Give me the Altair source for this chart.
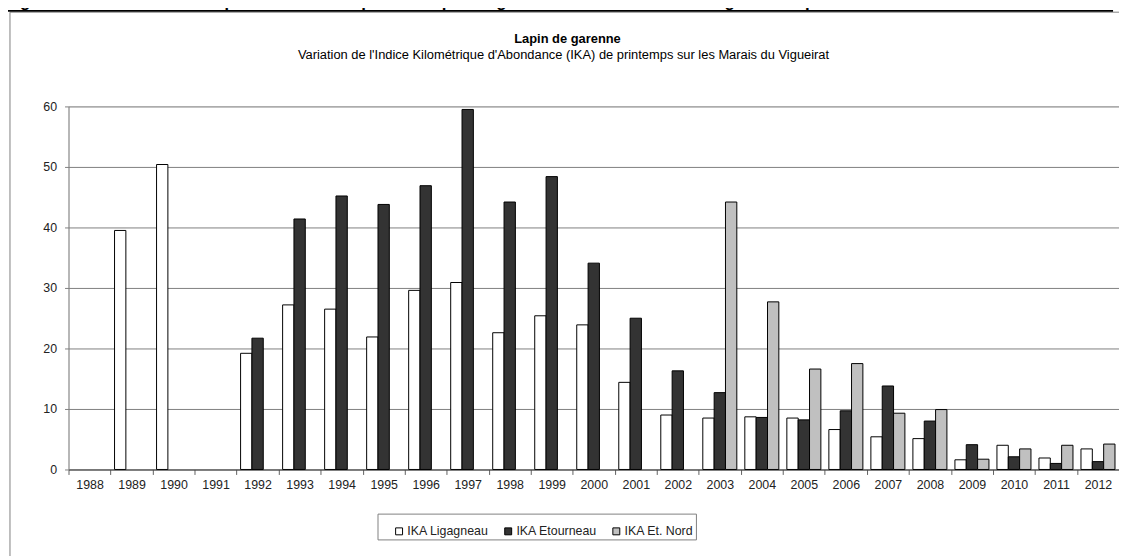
import altair as alt
import pandas as pd

# ---------------- data ----------------
years = [str(y) for y in range(1988, 2013)]
series_names = ["IKA Ligagneau", "IKA Etourneau", "IKA Et. Nord"]
series_colors = ["#ffffff", "#333333", "#c0c0c0"]

ika_ligagneau = [None, 39.5, 50.4, None, 19.2, 27.2, 26.5, 21.9, 29.6, 30.9,
                 22.6, 25.4, 23.9, 14.4, 9.0, 8.5, 8.7, 8.5, 6.6, 5.4,
                 5.1, 1.6, 4.0, 1.9, 3.4]
ika_etourneau = [None, None, None, None, 21.7, 41.4, 45.2, 43.8, 46.9, 59.5,
                 44.2, 48.4, 34.1, 25.0, 16.3, 12.7, 8.6, 8.2, 9.7, 13.8,
                 8.0, 4.1, 2.1, 1.0, 1.3]
ika_et_nord = [None, None, None, None, None, None, None, None, None, None,
               None, None, None, None, None, 44.2, 27.7, 16.6, 17.5, 9.3,
               9.9, 1.7, 3.4, 4.0, 4.2]
y_ticks = [0, 10, 20, 30, 40, 50, 60]

fig_title = ("Figure 47 : Indice kilométrique d'abondance pour le Lapin de garenne "
             "sur les Marais du Vigueirat depuis 1989")
chart_title = "Lapin de garenne"
chart_subtitle = ("Variation de l'Indice Kilométrique d'Abondance (IKA) de printemps "
                  "sur les Marais du Vigueirat")

rows = []
for name, vals in zip(series_names, [ika_ligagneau, ika_etourneau, ika_et_nord]):
    for yr, v in zip(years, vals):
        if v is not None:
            rows.append({"Année": yr, "Série": name, "IKA": v})
df = pd.DataFrame(rows)

FONT = "Liberation Sans"
W, H = 1059, 366
one = pd.DataFrame({"k": [0]})

bars = alt.Chart(df).mark_bar(stroke="black", strokeWidth=1).encode(
    x=alt.X("Année:N", sort=years,
            scale=alt.Scale(domain=years, paddingInner=0, paddingOuter=0),
            axis=alt.Axis(title=None, labelAngle=0, tickBand="extent", ticks=True,
                          tickSize=5, tickColor="#606060", domainColor="#404040",
                          labelFont=FONT, labelFontSize=12.5, labelColor="#222222",
                          labelPadding=4, grid=False)),
    xOffset=alt.XOffset("Série:N", sort=series_names,
                        scale=alt.Scale(domain=series_names, paddingInner=0,
                                        paddingOuter=0.353)),
    y=alt.Y("IKA:Q", scale=alt.Scale(domain=[0, 60], nice=False),
            axis=alt.Axis(title=None, values=y_ticks, grid=True, gridColor="#7f7f7f",
                          gridWidth=1, tickSize=4, tickColor="#7f7f7f",
                          domainColor="#7f7f7f", labelFont=FONT, labelFontSize=12.5,
                          labelColor="#222222", labelPadding=8)),
    fill=alt.Fill("Série:N", sort=series_names,
                  scale=alt.Scale(domain=series_names, range=series_colors),
                  legend=alt.Legend(title=None, orient="none", legendX=327, legendY=422,
                                    direction="horizontal", symbolType="square",
                                    symbolSize=49, symbolStrokeColor="black",
                                    symbolStrokeWidth=1, labelFont=FONT,
                                    labelFontSize=12.5, labelColor="#222222",
                                    labelOffset=2, columnPadding=13, padding=0)),
)

frame_left = alt.Chart(one).mark_rule(color="#808080", strokeWidth=1).encode(
    x=alt.value(-59), y=alt.value(-95), y2=alt.value(460))
frame_top = alt.Chart(one).mark_rule(color="#808080", strokeWidth=1).encode(
    x=alt.value(-59), x2=alt.value(1070), y=alt.value(-95))
underline = alt.Chart(one).mark_rule(color="black", strokeWidth=1.6).encode(
    x=alt.value(-62), x2=alt.value(1053), y=alt.value(-96.3))
fig_text = alt.Chart(pd.DataFrame({"t": [fig_title]})).mark_text(
    font=FONT, fontSize=17, fontWeight="bold", align="left", baseline="alphabetic",
    color="black").encode(text="t:N", x=alt.value(-64), y=alt.value(-100))

title_text = alt.Chart(pd.DataFrame({"t": [chart_title]})).mark_text(
    font=FONT, fontSize=13, fontWeight="bold", align="center", baseline="alphabetic",
    color="black").encode(text="t:N", x=alt.value(503), y=alt.value(-64))
subtitle_text = alt.Chart(pd.DataFrame({"t": [chart_subtitle]})).mark_text(
    font=FONT, fontSize=13, align="center", baseline="alphabetic",
    color="black").encode(text="t:N", x=alt.value(499), y=alt.value(-48))

legend_box = alt.Chart(one).mark_rect(fill="white", stroke="#808080", strokeWidth=1).encode(
    x=alt.value(312), x2=alt.value(633), y=alt.value(411), y2=alt.value(437))

chart = alt.layer(
    frame_left, frame_top, underline, fig_text, bars, legend_box, title_text, subtitle_text
).properties(
    width=W, height=H,
    autosize=alt.AutoSizeParams(type="none"),
    padding={"left": 61, "top": 97, "right": 0, "bottom": 85},
).configure_view(stroke=None).configure(background="white")

chart.save("out.html", embed_options={"renderer": "svg", "actions": False})
